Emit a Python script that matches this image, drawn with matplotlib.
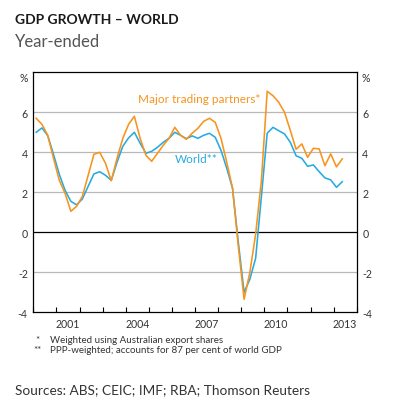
import matplotlib
matplotlib.use("Agg")
import matplotlib.pyplot as plt
import numpy as np

plt.rcParams['font.family'] = ['Lato', 'DejaVu Sans']

# Quarterly, 2000 Q1 .. 2013 Q2 (year-ended GDP growth, %)
start_year = 2000
major_trading_partners = [
    5.7, 5.4, 4.85, 3.7, 2.6, 1.95, 1.05, 1.3,
    1.8, 2.85, 3.9, 4.0, 3.45, 2.58, 3.7, 4.7,
    5.4, 5.8, 4.7, 3.85, 3.55, 3.95, 4.35, 4.7,
    5.25, 4.85, 4.65, 4.95, 5.2, 5.55, 5.7, 5.5,
    4.7, 3.5, 2.2, -0.7, -3.35, -2.0, -0.1, 2.6,
    7.05, 6.83, 6.5, 6.0, 5.1, 4.15, 4.42, 3.75,
    4.2, 4.17, 3.33, 3.92, 3.27, 3.67,
]
world = [
    5.0, 5.22, 4.83, 3.9, 2.9, 2.1, 1.55, 1.37,
    1.67, 2.3, 2.92, 3.03, 2.85, 2.6, 3.5, 4.3,
    4.72, 5.0, 4.45, 3.95, 4.05, 4.25, 4.5, 4.7,
    5.0, 4.85, 4.68, 4.82, 4.7, 4.85, 4.95, 4.75,
    4.1, 3.2, 2.2, -0.5, -3.0, -2.35, -1.3, 1.8,
    4.95, 5.25, 5.08, 4.92, 4.5, 3.83, 3.7, 3.3,
    3.37, 3.03, 2.72, 2.62, 2.25, 2.53,
]
year_labels = [2001, 2004, 2007, 2010, 2013]
y_ticks = [-4, -2, 0, 2, 4, 6]

orange = '#f7941d'
blue = '#27aae1'
grid_c = '#b8b8b8'
text_c = '#333333'

n = len(world)
t = start_year + 0.125 + 0.25 * np.arange(n)

fig = plt.figure(figsize=(3.95, 4.10), dpi=100)
ax = fig.add_axes([33.3 / 395, 1 - 313.3 / 410, (356.7 - 33.3) / 395, (313.3 - 73.3) / 410])

ax.set_xlim(2000, 2014)
ax.set_ylim(-4, 8)

for yv in [-2, 2, 4, 6]:
    ax.axhline(yv, color=grid_c, lw=0.9, zorder=1)
ax.axhline(0, color='black', lw=0.9, zorder=1)

ax.plot(t, world, color=blue, lw=1.15, zorder=3)
ax.plot(t, major_trading_partners, color=orange, lw=1.15, zorder=4)

for s in ax.spines.values():
    s.set_linewidth(0.9)
    s.set_color('black')

# x ticks: year boundaries (inward), labels at mid-year
ax.set_xticks(np.arange(2000, 2015))
ax.tick_params(axis='x', which='major', direction='in', length=3.5, width=0.8,
               labelbottom=False, top=False)
ax.set_xticks([y + 0.5 for y in year_labels], minor=True)
ax.set_xticklabels([str(y) for y in year_labels], minor=True)
ax.tick_params(axis='x', which='minor', length=0, pad=4, labelsize=7.6, colors=text_c)

ax.set_yticks(y_ticks)
ax.set_yticklabels([str(v) for v in y_ticks])
ax.tick_params(axis='y', which='both', length=0, pad=4, labelsize=7.6, colors=text_c,
               labelleft=True, labelright=True, left=False, right=False)

ax.text(-0.015, 7.75, '%', transform=ax.get_yaxis_transform(), ha='right', va='center',
        fontsize=7.6, color=text_c)
ax.text(1.015, 7.75, '%', transform=ax.get_yaxis_transform(), ha='left', va='center',
        fontsize=7.6, color=text_c)

ax.text(2004.53, 6.7, 'Major trading partners*', color=orange, fontsize=8.5,
        ha='left', va='center')
ax.text(2006.13, 3.7, 'World**', color=blue, fontsize=8.5, ha='left', va='center')

fig.text(15 / 395, 1 - 20 / 410, 'GDP GROWTH – WORLD', fontsize=10, fontweight='bold',
         color='#1a1a1a', ha='left', va='center')
fig.text(15 / 395, 1 - 42 / 410, 'Year-ended', fontsize=12, color='#555555',
         ha='left', va='center')

fig.text(35 / 395, 1 - 341 / 410, '*', fontsize=7, color=text_c, ha='left', va='center')
fig.text(50 / 395, 1 - 341 / 410, 'Weighted using Australian export shares', fontsize=7,
         color=text_c, ha='left', va='center')
fig.text(33 / 395, 1 - 350.5 / 410, '**', fontsize=7, color=text_c, ha='left', va='center')
fig.text(50 / 395, 1 - 350.5 / 410, 'PPP-weighted; accounts for 87 per cent of world GDP',
         fontsize=7, color=text_c, ha='left', va='center')

fig.text(15 / 395, 1 - 390.5 / 410, 'Sources: ABS; CEIC; IMF; RBA; Thomson Reuters',
         fontsize=9.8, color=text_c, ha='left', va='center')

fig.savefig('out.png', dpi=100)
